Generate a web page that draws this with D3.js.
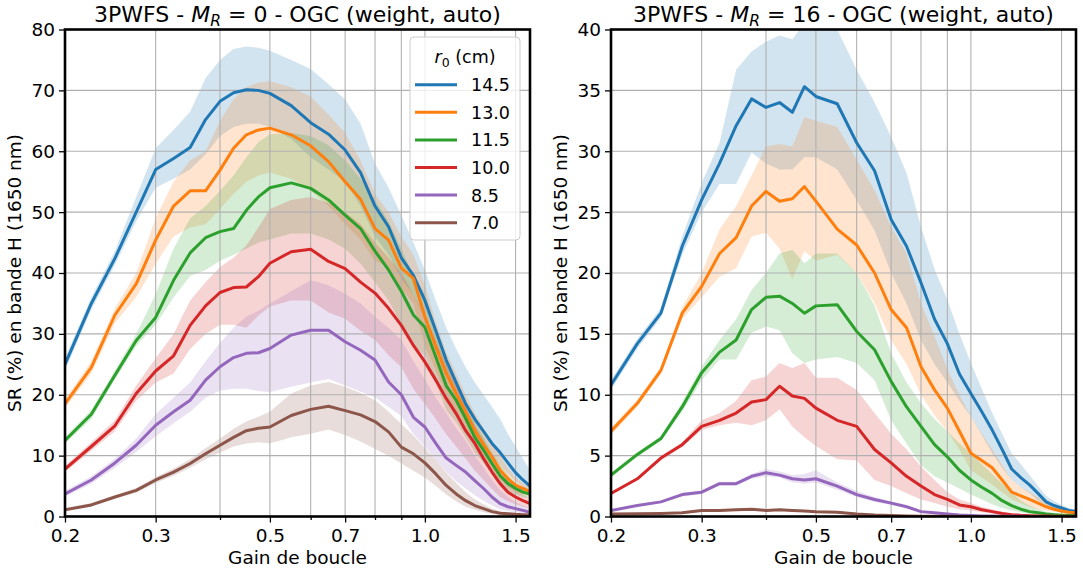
<!DOCTYPE html>
<html>
<head>
<meta charset="utf-8">
<script src="https://cdn.jsdelivr.net/npm/d3@7"></script>
<style>
  body { margin: 0; background: #fff; }
  svg text { font-family: "DejaVu Sans", sans-serif; fill: #000; }
</style>
</head>
<body>
<svg id="chart" width="1083" height="572"></svg>
<script>
// loop gains (x values, log axis)
var gains = [0.2, 0.225, 0.25, 0.275, 0.3, 0.325, 0.35, 0.375, 0.4, 0.425, 0.45, 0.475, 0.5,
             0.55, 0.6, 0.65, 0.7, 0.75, 0.8, 0.85, 0.9, 0.95, 1.0, 1.05, 1.1, 1.15, 1.2,
             1.25, 1.3, 1.35, 1.4, 1.45, 1.5, 1.55, 1.6];
var r0Labels = ["14.5", "13.0", "11.5", "10.0", "8.5", "7.0"];
var colors = ["#1f77b4", "#ff7f0e", "#2ca02c", "#d62728", "#9467bd", "#8c564b"];
var xGridVals = [0.2, 0.3, 0.4, 0.5, 0.6, 0.7, 0.8, 0.9, 1.0, 1.5];
var xMajor = [0.2, 0.3, 0.5, 0.7, 1.0, 1.5];
var xMinor = [0.4, 0.6, 0.8, 0.9];
var yTicksLeft = [0, 10, 20, 30, 40, 50, 60, 70, 80];
var yTicksRight = [0, 5, 10, 15, 20, 25, 30, 35, 40];

// ---- left panel : M_R = 0 ----
var L145 = [25, 35, 42.4, 50, 57, 58.8, 60.6, 65.2, 68.2, 69.6, 70.1, 70, 69.5, 67.5, 64.7, 62.8, 60.2, 56.5, 51, 47.6, 42.5, 39.6, 35.5, 30.5, 25.7, 22, 18.5, 16, 14, 12, 10.5, 8.8, 7.2, 6, 5];
var L145lo = [24, 34, 41.3, 48.5, 54, 55.5, 57, 59.5, 62.5, 64, 64.5, 64.5, 64, 62, 59, 57, 55, 51, 46, 43, 39, 36.5, 32.5, 27.5, 23, 19.5, 16, 13.5, 11.5, 10, 8.5, 7, 5.8, 4.8, 4];
var L145hi = [26, 36, 43.6, 52.5, 60.5, 63.5, 66.5, 72, 75, 76.8, 77.2, 77, 76.5, 75, 73.5, 71, 68.5, 64.5, 58, 54, 49.5, 45, 40.5, 35.5, 31, 27.5, 24.5, 22, 20, 18, 16, 13.5, 11.5, 9.5, 7.6];

var L130 = [18.5, 24.5, 33.1, 38.2, 45.4, 51, 53.5, 53.5, 56.9, 60.5, 62.7, 63.5, 63.8, 62.7, 60.9, 58.3, 55, 52.1, 47.3, 45.4, 40.8, 39.1, 32.8, 27.9, 23.5, 20.2, 17.2, 14.1, 11.8, 9.8, 7.6, 6.2, 5.1, 4.6, 4.1];
var L130lo = [17.8, 23.5, 31.8, 36, 41.5, 46, 47.5, 48, 50.5, 53, 55, 56, 56.5, 55.5, 53.5, 51, 48, 45.5, 42, 41, 37.5, 35, 28, 24, 20, 17, 14.5, 11.5, 9.5, 7.8, 6, 4.8, 4, 3.6, 3.3];
var L130hi = [19.2, 25.5, 34.2, 40, 49, 55, 58.5, 60, 65, 68.5, 70.5, 71.3, 71.5, 70.5, 69, 66, 63, 58.5, 53, 50, 46, 43, 38, 32, 27, 23.5, 20, 17, 14.5, 12, 10, 8, 6.5, 5.5, 4.8];

var L115 = [12.5, 16.8, 23.2, 28.9, 32.7, 38.8, 43.3, 45.8, 46.8, 47.3, 50.3, 52.5, 54, 54.8, 53.9, 52, 49.5, 47.3, 43.6, 40.5, 37, 33.1, 31.1, 26.2, 21.5, 19.1, 16.1, 13, 10.9, 8.7, 6.7, 5.4, 4.6, 4, 3.7];
var L115lo = [12, 16, 22.5, 28, 31.5, 36, 39.5, 40.5, 42, 43, 44, 45, 45.5, 46.5, 46.5, 45.5, 44, 41.5, 38.5, 35.5, 31.5, 28, 26.5, 22, 17.5, 15.5, 13, 10.5, 8.8, 7, 5.2, 4.2, 3.6, 3.2, 3];
var L115hi = [13, 17.5, 24, 30, 36.5, 44, 49, 51, 53.5, 56, 59, 61.5, 62.8, 63, 62.5, 61, 58.5, 55.5, 52, 48.5, 44, 39.5, 36.5, 31, 26, 22.5, 19, 15.5, 13, 10.5, 8.5, 6.8, 5.6, 4.8, 4.3];

var L100 = [7.8, 11.5, 14.9, 20.2, 23.9, 26.4, 31.4, 34.6, 36.8, 37.6, 37.7, 39.4, 41.6, 43.5, 43.9, 41.9, 40.7, 38.5, 36.7, 34.2, 31.4, 28.1, 25.4, 22.4, 19.4, 16.9, 14.1, 12, 9.5, 7.3, 5.4, 4, 3.2, 2.6, 2.1];
var L100lo = [7.3, 10.8, 14, 19, 22, 23.5, 27.5, 30, 31.5, 31.5, 31, 33, 34.5, 35.5, 35.5, 33.5, 32.5, 30.5, 29, 26.5, 24.5, 21, 18.5, 16, 13.5, 11.5, 9.5, 7.5, 6, 4.5, 3.2, 2.5, 2, 1.6, 1.3];
var L100hi = [8.3, 12.2, 15.8, 21.5, 26, 30, 35.5, 38.5, 41, 42.5, 44.5, 47.5, 50.5, 52, 52.5, 51.5, 50, 48, 45, 42.5, 40, 36.5, 33, 29, 25, 21.5, 18, 15, 12.5, 10, 8, 6, 4.6, 3.6, 3];

var L85 = [3.7, 6, 8.8, 11.7, 15, 17.2, 19.1, 22.4, 24.6, 26.1, 26.8, 26.9, 27.6, 29.8, 30.6, 30.6, 28.7, 27.3, 25.7, 22.1, 20, 16.3, 14.7, 12, 9.6, 8.4, 7.3, 5.9, 4.6, 3.2, 2.1, 1.6, 1.3, 1, 0.7];
var L85lo = [3.3, 5.4, 8, 10.6, 13.2, 15.3, 17.2, 19.5, 20.7, 21, 21, 20.6, 20.4, 21.3, 22, 22.6, 21.5, 20.5, 19.6, 18, 16.5, 13.5, 11.5, 9.3, 7.3, 5.8, 4.6, 3.5, 2.6, 1.8, 1.2, 0.9, 0.7, 0.5, 0.4];
var L85hi = [4.2, 6.6, 9.5, 12.8, 16.8, 19.5, 22, 25.5, 28.5, 31, 32.8, 33.8, 35, 37, 38.8, 38, 36.6, 35, 32.8, 31, 29, 25.5, 22.5, 19.5, 17, 14.5, 12.5, 10, 8, 6, 4.3, 3.2, 2.4, 1.8, 1.3];

var L70 = [1.1, 1.9, 3.2, 4.3, 6, 7.3, 8.7, 10.3, 11.7, 13, 14.1, 14.5, 14.7, 16.6, 17.6, 18.1, 17.4, 16.7, 15.6, 13.9, 11.4, 10.3, 8.8, 7, 5.1, 3.7, 2.6, 1.8, 1.3, 0.8, 0.55, 0.45, 0.35, 0.3, 0.25];
var L70lo = [0.9, 1.6, 2.9, 3.9, 5.5, 6.7, 8, 9.4, 10.5, 11.5, 12, 12.2, 12, 13, 13.6, 14.3, 13.4, 12.3, 11.1, 10, 8.7, 7.5, 6.4, 5, 3.6, 2.5, 1.6, 1.1, 0.7, 0.45, 0.3, 0.25, 0.2, 0.15, 0.1];
var L70hi = [1.3, 2.2, 3.5, 4.7, 6.5, 7.9, 9.4, 11.2, 12.8, 14.4, 15.6, 16.4, 17.2, 20.2, 21.5, 22.1, 21.3, 20.3, 19.1, 17.2, 15.2, 13.3, 11.3, 9.3, 7.2, 5.5, 4, 2.8, 2, 1.3, 0.9, 0.7, 0.55, 0.45, 0.4];

// ---- right panel : M_R = 16 ----
var R145 = [10.8, 14.2, 16.7, 22.2, 26, 29, 32.1, 34.3, 33.6, 34, 33.2, 35.3, 34.5, 33.9, 30.7, 28.4, 24.4, 22.2, 19.2, 16.2, 14.2, 11.7, 10.1, 8.6, 7.1, 5.5, 3.9, 3.2, 2.6, 1.9, 1.2, 0.9, 0.7, 0.5, 0.4];
var R145lo = [10.4, 13.8, 16.3, 21.5, 25, 27.3, 27.3, 29.9, 29, 28.5, 28.5, 29.5, 29.5, 28.5, 26, 23.5, 20, 17.5, 14.5, 12.5, 11, 9.5, 8.2, 6.7, 5.2, 4, 3, 2.4, 1.9, 1.3, 0.9, 0.65, 0.5, 0.4, 0.3];
var R145hi = [11.2, 14.6, 17.1, 23, 27.4, 30.7, 36.7, 38.2, 39, 39.5, 39.2, 40.5, 40.5, 40, 36.7, 34, 31.2, 28.2, 23.8, 20.3, 17.8, 15, 12.6, 10.5, 8.5, 6.8, 5.2, 4.3, 3.4, 2.5, 1.7, 1.25, 0.95, 0.7, 0.55];

var R130 = [7, 9.3, 12, 16.7, 18.9, 21.6, 22.9, 25.5, 26.7, 25.9, 26.1, 27.1, 25.9, 23.6, 22.3, 20, 17, 15.5, 12.3, 10.4, 8.9, 7, 5.2, 4.6, 4, 3, 2, 1.7, 1.4, 1.1, 0.8, 0.6, 0.45, 0.35, 0.3];
var R130lo = [6.7, 9, 11.7, 16.2, 18, 19.7, 20.4, 23, 23.3, 22, 19.5, 21.8, 21, 21.5, 20, 17.5, 14.5, 12.5, 10, 8.3, 7, 5.5, 3.8, 3.2, 2.6, 2, 1.4, 1.1, 0.8, 0.6, 0.5, 0.4, 0.3, 0.25, 0.2];
var R130hi = [7.3, 9.6, 12.3, 17.2, 20, 23.6, 25.5, 28, 30.4, 30.6, 30.4, 32.8, 32.5, 32, 29.3, 26.8, 23.8, 21.6, 17.5, 14.8, 12.1, 10, 8.2, 6.8, 5.5, 4.2, 3, 2.4, 2, 1.6, 1.2, 0.9, 0.7, 0.55, 0.45];

var R115 = [3.4, 5.1, 6.4, 9, 11.8, 13.5, 14.5, 17, 18, 18.1, 17.5, 16.7, 17.3, 17.4, 15.2, 13.7, 11.1, 9, 7.4, 5.9, 4.9, 3.8, 3, 2.4, 1.9, 1.3, 0.9, 0.6, 0.4, 0.3, 0.2, 0.15, 0.1, 0.1, 0.08];
var R115lo = [3.2, 4.9, 6.2, 8.6, 11.2, 12.9, 12.9, 15.1, 15.6, 15.3, 13.4, 12.6, 12.9, 13.1, 12.6, 11.2, 7.9, 6, 4.2, 3.3, 2.8, 2.3, 1.8, 1.4, 1, 0.7, 0.5, 0.35, 0.2, 0.15, 0.1, 0.08, 0.05, 0.05, 0.04];
var R115hi = [3.6, 5.3, 6.6, 9.4, 12.3, 14.5, 16.2, 18.6, 20, 21.6, 21.9, 20.8, 21.6, 21.6, 20, 17.3, 13.4, 11, 9.3, 8, 7, 6, 5.2, 4.3, 3.5, 2.7, 2, 1.3, 0.9, 0.6, 0.4, 0.3, 0.2, 0.15, 0.12];

var R100 = [1.9, 3.1, 4.8, 5.9, 7.4, 7.9, 8.5, 9.4, 9.6, 10.7, 9.9, 9.7, 8.9, 7.9, 7.4, 5.5, 4.4, 3.3, 2.5, 1.8, 1.4, 0.95, 0.8, 0.55, 0.4, 0.25, 0.15, 0.1, 0.07, 0.05, 0.04, 0.03, 0.03, 0.02, 0.02];
var R100lo = [1.8, 3, 4.6, 5.7, 7.1, 7.5, 7.7, 7.5, 7.9, 8.8, 7.4, 6.5, 5.8, 4.7, 4.6, 3, 2.5, 1.9, 1.4, 1.1, 0.8, 0.6, 0.5, 0.35, 0.25, 0.15, 0.1, 0.06, 0.04, 0.03, 0.02, 0.02, 0.02, 0.01, 0.01];
var R100hi = [2, 3.2, 5, 6.1, 7.9, 8.5, 9.5, 11.2, 11.5, 12.6, 12.2, 12.6, 11.4, 11.4, 10.4, 8.5, 6.8, 5.5, 4.1, 3, 2, 1.4, 1.1, 0.8, 0.6, 0.4, 0.25, 0.15, 0.1, 0.08, 0.06, 0.05, 0.04, 0.03, 0.03];

var R85 = [0.5, 0.9, 1.2, 1.8, 2, 2.7, 2.7, 3.3, 3.6, 3.4, 3.1, 3, 3.1, 2.5, 1.8, 1.4, 1.1, 0.8, 0.4, 0.3, 0.2, 0.12, 0.08, 0.05, 0.04, 0.03, 0.02, 0.02, 0.01, 0.01, 0.01, 0.01, 0.01, 0.01, 0.01];
var R85lo = [0.45, 0.8, 1.1, 1.65, 1.85, 2.55, 2.55, 3.1, 3.3, 3.2, 2.8, 2.7, 2.8, 2.2, 1.6, 1.2, 0.95, 0.7, 0.35, 0.25, 0.15, 0.1, 0.06, 0.04, 0.03, 0.02, 0.015, 0.01, 0.01, 0.01, 0.01, 0.01, 0.01, 0.01, 0.01];
var R85hi = [0.55, 1, 1.3, 1.95, 2.15, 2.85, 2.85, 3.5, 3.9, 3.7, 3.4, 3.5, 3.8, 2.8, 2.1, 1.6, 1.25, 0.95, 0.5, 0.35, 0.25, 0.15, 0.1, 0.07, 0.05, 0.04, 0.03, 0.02, 0.02, 0.02, 0.01, 0.01, 0.01, 0.01, 0.01];

var R70 = [0.2, 0.22, 0.25, 0.3, 0.5, 0.5, 0.55, 0.6, 0.5, 0.55, 0.5, 0.45, 0.4, 0.35, 0.2, 0.12, 0.08, 0.05, 0.03, 0.02, 0.02, 0.01, 0.01, 0.01, 0, 0, 0, 0, 0, 0, 0, 0, 0, 0, 0];
var R70lo = [0.16, 0.18, 0.2, 0.25, 0.44, 0.44, 0.48, 0.52, 0.44, 0.48, 0.44, 0.4, 0.35, 0.3, 0.17, 0.1, 0.06, 0.04, 0.02, 0.01, 0.01, 0.01, 0, 0, 0, 0, 0, 0, 0, 0, 0, 0, 0, 0, 0];
var R70hi = [0.24, 0.27, 0.3, 0.36, 0.57, 0.58, 0.63, 0.68, 0.58, 0.63, 0.57, 0.52, 0.46, 0.4, 0.24, 0.15, 0.1, 0.07, 0.04, 0.03, 0.03, 0.02, 0.02, 0.01, 0.01, 0, 0, 0, 0, 0, 0, 0, 0, 0, 0];

var svg = d3.select("#chart");
var top_ = 29.5, H = 487, W = 465;

function drawPanel(p) {
  var g = svg.append("g").attr("transform", "translate(" + p.left + "," + top_ + ")");
  var x = d3.scaleLog().domain([0.2, 1.6]).range([0, W]);
  var y = d3.scaleLinear().domain([0, p.ymax]).range([H, 0]);

  g.append("clipPath").attr("id", "clip" + p.id)
    .append("rect").attr("width", W).attr("height", H);
  var plot = g.append("g").attr("clip-path", "url(#clip" + p.id + ")");

  // bands
  var area = d3.area()
    .x(function(d, i) { return x(gains[i]); })
    .y0(function(d) { return y(d[0]); })
    .y1(function(d) { return y(d[1]); });
  p.lows.forEach(function(lo, k) {
    plot.append("path")
      .datum(d3.zip(lo, p.highs[k]))
      .attr("d", area)
      .attr("fill", colors[k])
      .attr("fill-opacity", 0.2);
  });

  // grid
  plot.selectAll(".gx").data(xGridVals).enter().append("line")
    .attr("x1", function(d) { return x(d); }).attr("x2", function(d) { return x(d); })
    .attr("y1", 0).attr("y2", H)
    .attr("stroke", "#b0b0b0").attr("stroke-width", 1.1);
  plot.selectAll(".gy").data(p.yTicks).enter().append("line")
    .attr("x1", 0).attr("x2", W)
    .attr("y1", function(d) { return y(d); }).attr("y2", function(d) { return y(d); })
    .attr("stroke", "#b0b0b0").attr("stroke-width", 1.1);

  // mean lines
  var line = d3.line()
    .x(function(d, i) { return x(gains[i]); })
    .y(function(d) { return y(d); });
  p.means.forEach(function(m, k) {
    plot.append("path")
      .datum(m)
      .attr("d", line)
      .attr("fill", "none")
      .attr("stroke", colors[k])
      .attr("stroke-width", 3)
      .attr("stroke-linejoin", "round");
  });

  // axes
  var xa = g.append("g").attr("transform", "translate(0," + H + ")")
    .call(d3.axisBottom(x).tickValues(xMajor).tickFormat(d3.format(".1f")).tickSize(6).tickPadding(6));
  var xm = g.append("g").attr("transform", "translate(0," + H + ")")
    .call(d3.axisBottom(x).tickValues(xMinor).tickFormat("").tickSize(3.5));
  var ya = g.append("g")
    .call(d3.axisLeft(y).tickValues(p.yTicks).tickSize(6).tickPadding(4));
  [xa, xm, ya].forEach(function(a) {
    a.select(".domain").remove();
    a.selectAll("line").attr("stroke", "#000").attr("stroke-width", 1.3);
    a.selectAll("text").attr("font-size", "18.5px").attr("font-family", "DejaVu Sans");
  });

  // spines
  g.append("rect").attr("width", W).attr("height", H)
    .attr("fill", "none").attr("stroke", "#000").attr("stroke-width", 2.6);

  // axis labels
  g.append("text").attr("x", W / 2).attr("y", 564 - top_)
    .attr("text-anchor", "middle").attr("font-size", "18.5px").text("Gain de boucle");
  g.append("text")
    .attr("transform", "translate(" + (-44) + "," + (H / 2) + ") rotate(-90)")
    .attr("text-anchor", "middle").attr("font-size", "18.5px")
    .text("SR (%) en bande H (1650 nm)");

  // title
  var t = g.append("text").attr("x", W / 2).attr("y", -7.5)
    .attr("text-anchor", "middle").attr("font-size", "22px").style("white-space", "pre");
  t.append("tspan").text("3PWFS - ");
  t.append("tspan").attr("font-style", "italic").text("M");
  t.append("tspan").attr("font-style", "italic").attr("font-size", "15.5px").attr("dy", 4).text("R");
  t.append("tspan").attr("dy", -4).text(" = " + p.mr + " - OGC (weight, auto)");

  if (p.legend) {
    var lg = g.append("g").attr("transform", "translate(345,7.5)");
    lg.append("rect").attr("width", 110).attr("height", 203).attr("rx", 4)
      .attr("fill", "#fff").attr("fill-opacity", 0.8)
      .attr("stroke", "#cccccc").attr("stroke-width", 1);
    var lt = lg.append("text").attr("x", 55).attr("y", 26).attr("text-anchor", "middle")
      .attr("font-size", "17.5px").style("white-space", "pre");
    lt.append("tspan").attr("font-style", "italic").text("r");
    lt.append("tspan").attr("font-size", "12.5px").attr("dy", 4).text("0");
    lt.append("tspan").attr("dy", -4).text(" (cm)");
    r0Labels.forEach(function(lab, k) {
      var cy = 47.7 + k * 27.6;
      lg.append("line").attr("x1", 5).attr("x2", 47).attr("y1", cy).attr("y2", cy)
        .attr("stroke", colors[k]).attr("stroke-width", 3);
      lg.append("text").attr("x", 61).attr("y", cy + 6.4).attr("font-size", "17.5px").text(lab);
    });
  }
}

drawPanel({
  id: "L", left: 65, ymax: 80, yTicks: yTicksLeft, mr: "0", legend: true,
  means: [L145, L130, L115, L100, L85, L70],
  lows: [L145lo, L130lo, L115lo, L100lo, L85lo, L70lo],
  highs: [L145hi, L130hi, L115hi, L100hi, L85hi, L70hi]
});
drawPanel({
  id: "R", left: 611, ymax: 40, yTicks: yTicksRight, mr: "16", legend: false,
  means: [R145, R130, R115, R100, R85, R70],
  lows: [R145lo, R130lo, R115lo, R100lo, R85lo, R70lo],
  highs: [R145hi, R130hi, R115hi, R100hi, R85hi, R70hi]
});
</script>
</body>
</html>
